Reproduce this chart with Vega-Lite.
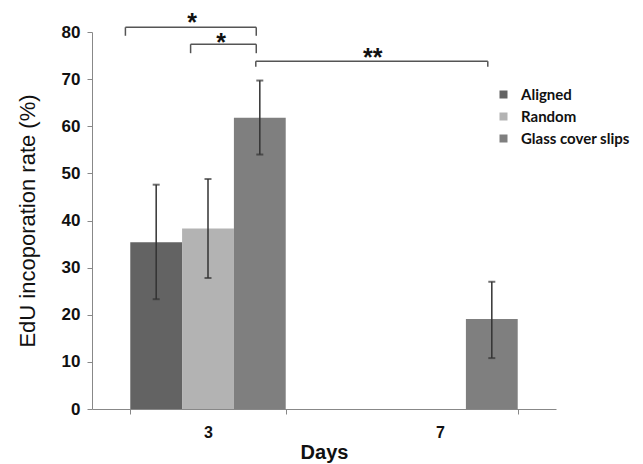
{
  "$schema": "https://vega.github.io/schema/vega-lite/v6.json",
  "autosize": {"type": "none"},
  "padding": {"left": 92, "top": 32, "right": 87, "bottom": 55},
  "width": 464,
  "height": 377,
  "background": "white",
  "config": {"view": {"stroke": null}, "font": "Liberation Sans"},
  "datasets": {
    "bars": [
      {"day": "3", "group": "Aligned", "value": 35.4, "lo": 23.3, "hi": 47.6},
      {"day": "3", "group": "Random", "value": 38.3, "lo": 27.8, "hi": 48.8},
      {"day": "3", "group": "Glass cover slips", "value": 61.8, "lo": 54.0, "hi": 69.7},
      {"day": "7", "group": "Aligned", "value": 0, "lo": null, "hi": null},
      {"day": "7", "group": "Random", "value": 0, "lo": null, "hi": null},
      {"day": "7", "group": "Glass cover slips", "value": 19.1, "lo": 10.8, "hi": 27.0}
    ],
    "brackets": [
      {"from": 0.144, "to": 0.708, "level": 81.0, "drop": 79.2},
      {"from": 0.425, "to": 0.708, "level": 77.4, "drop": 75.5},
      {"from": 0.706, "to": 1.706, "level": 73.8, "drop": 72.6}
    ],
    "stars": [
      {"pos": 0.432, "level": 83.2, "mark": "*"},
      {"pos": 0.557, "level": 78.9, "mark": "*"},
      {"pos": 1.21, "level": 75.7, "mark": "**"}
    ]
  },
  "resolve": {"scale": {"x": "independent"}, "axis": {"x": "independent"}},
  "layer": [
    {
      "data": {"name": "bars"},
      "encoding": {
        "x": {
          "field": "day", "type": "nominal",
          "scale": {"paddingInner": 0.33, "paddingOuter": 0.165},
          "axis": {
            "title": "Days", "labelAngle": 0, "tickBand": "extent",
            "labelFont": "Liberation Sans", "labelFontWeight": "bold", "labelFontSize": 16, "labelColor": "#111",
            "labelPadding": 10, "tickSize": 5, "tickColor": "#888", "domainColor": "#888",
            "titleFont": "Liberation Sans", "titleFontWeight": "bold", "titleFontSize": 20, "titleColor": "#111", "titlePadding": 2
          }
        },
        "xOffset": {"field": "group", "type": "nominal", "sort": ["Aligned", "Random", "Glass cover slips"], "scale": {"paddingInner": 0, "paddingOuter": 0}}
      },
      "layer": [
        {
          "mark": {"type": "bar"},
          "encoding": {
            "y": {
              "field": "value", "type": "quantitative",
              "scale": {"domain": [0, 80], "nice": false},
              "axis": {
                "title": "EdU incoporation rate (%)", "values": [0, 10, 20, 30, 40, 50, 60, 70, 80],
                "grid": false, "tickSize": 5, "tickColor": "#888", "domainColor": "#888",
                "labelFont": "Liberation Sans", "labelFontWeight": "bold", "labelFontSize": 17, "labelColor": "#111", "labelPadding": 7,
                "titleFont": "Liberation Sans", "titleFontWeight": "normal", "titleFontSize": 22, "titleColor": "#111", "titlePadding": 22
              }
            },
            "color": {
              "field": "group", "type": "nominal",
              "scale": {"domain": ["Aligned", "Random", "Glass cover slips"], "range": ["#636363", "#b3b3b3", "#7f7f7f"]},
              "legend": {
                "title": null, "orient": "none", "legendX": 404, "legendY": 55,
                "symbolType": "square", "symbolSize": 64, "symbolStrokeWidth": 0,
                "labelFont": "Lato", "labelFontWeight": "bold", "labelFontSize": 15, "labelColor": "#111",
                "labelOffset": 10, "rowPadding": 6
              }
            }
          }
        },
        {
          "mark": {"type": "rule", "color": "#333", "strokeWidth": 1.5},
          "encoding": {"y": {"field": "lo", "type": "quantitative"}, "y2": {"field": "hi"}}
        },
        {
          "mark": {"type": "tick", "color": "#333", "thickness": 2, "size": 7},
          "encoding": {"y": {"field": "lo", "type": "quantitative"}}
        },
        {
          "mark": {"type": "tick", "color": "#333", "thickness": 2, "size": 7},
          "encoding": {"y": {"field": "hi", "type": "quantitative"}}
        }
      ]
    },
    {
      "layer": [
        {
          "data": {"name": "brackets"},
          "mark": {"type": "rule", "color": "#555", "strokeWidth": 1.5},
          "encoding": {
            "x": {"field": "from", "type": "quantitative", "scale": {"domain": [0, 2], "nice": false, "zero": false}, "axis": null},
            "x2": {"field": "to"},
            "y": {"field": "level", "type": "quantitative"}
          }
        },
        {
          "data": {"name": "brackets"},
          "mark": {"type": "rule", "color": "#555", "strokeWidth": 1.5},
          "encoding": {
            "x": {"field": "from", "type": "quantitative", "axis": null},
            "y": {"field": "level", "type": "quantitative"},
            "y2": {"field": "drop"}
          }
        },
        {
          "data": {"name": "brackets"},
          "mark": {"type": "rule", "color": "#555", "strokeWidth": 1.5},
          "encoding": {
            "x": {"field": "to", "type": "quantitative", "axis": null},
            "y": {"field": "level", "type": "quantitative"},
            "y2": {"field": "drop"}
          }
        },
        {
          "data": {"name": "stars"},
          "mark": {"type": "text", "font": "Liberation Sans", "fontWeight": "bold", "fontSize": 25, "baseline": "middle", "dy": 6, "color": "#111"},
          "encoding": {
            "x": {"field": "pos", "type": "quantitative", "axis": null},
            "y": {"field": "level", "type": "quantitative"},
            "text": {"field": "mark"}
          }
        }
      ]
    }
  ]
}
